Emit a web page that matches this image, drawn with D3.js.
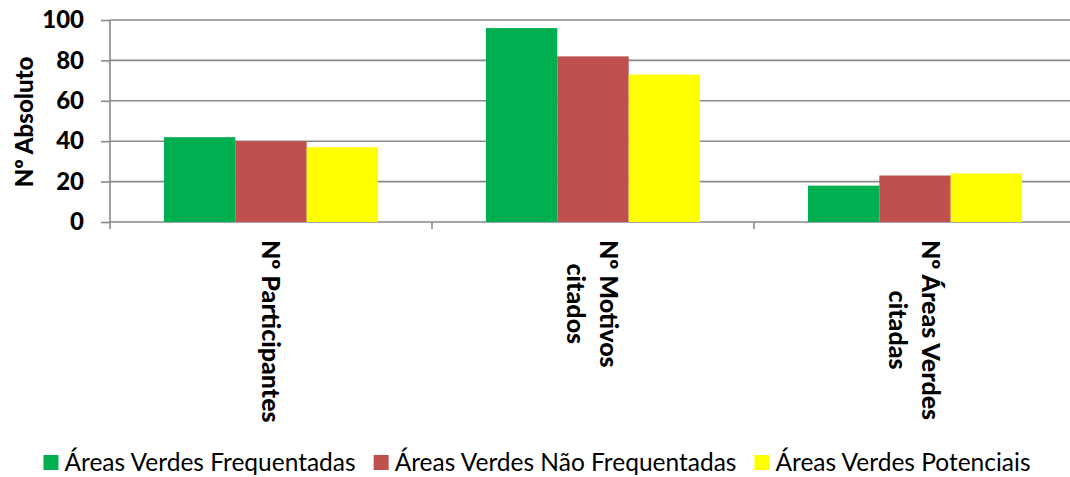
<!DOCTYPE html>
<html><head><meta charset="utf-8">
<script src="https://cdn.jsdelivr.net/npm/d3@7"></script>
<style>body{margin:0;background:#fff;overflow:hidden} svg{display:block}</style>
</head><body><svg id="c" width="1070" height="477"></svg>
<script>
// ---- data ----
const categories = ["Nº Participantes", "Nº Motivos|citados", "Nº Áreas Verdes|citadas"];
const seriesNames = ["Áreas Verdes Frequentadas", "Áreas Verdes Não Frequentadas", "Áreas Verdes Potenciais"];
const frequentadas = [42, 96, 18];
const naoFrequentadas = [40, 82, 23];
const potenciais = [37, 73, 24];
const yTicks = [0, 20, 40, 60, 80, 100];
const yTitle = "Nº Absoluto";
const colors = ["#00B050", "#C0504D", "#FFFF00"];

const seriesValues = [frequentadas, naoFrequentadas, potenciais];
const svg = d3.select("#c");
const FONT = "Lato, 'Open Sans', sans-serif";
const gridCol = "#898989";

const plot = {left: 110, right: 1076, top: 20, bottom: 222};
const x = d3.scaleBand().domain(categories).range([plot.left, plot.right])
  .paddingInner(0.335).paddingOuter(0.1675);
const xs = d3.scaleBand().domain(seriesNames).range([0, x.bandwidth()]);
const y = d3.scaleLinear().domain([0, 100]).range([plot.bottom, plot.top]);

// gridlines
svg.append("g").selectAll("line").data(yTicks).join("line")
  .attr("x1", plot.left).attr("x2", plot.right)
  .attr("y1", d => y(d)).attr("y2", d => y(d))
  .attr("stroke", gridCol).attr("stroke-width", 1.6);

// bars
const table = categories.map((c, i) => ({cat: c, vals: seriesNames.map((s, j) => ({s, j, v: seriesValues[j][i]}))}));
svg.append("g").selectAll("g").data(table).join("g")
  .attr("transform", d => `translate(${x(d.cat)},0)`)
  .selectAll("rect").data(d => d.vals).join("rect")
  .attr("x", d => xs(d.s)).attr("width", xs.bandwidth())
  .attr("y", d => y(d.v)).attr("height", d => y(0) - y(d.v))
  .attr("fill", d => colors[d.j]);

// y axis
const yAxis = d3.axisLeft(y).tickValues(yTicks).tickSize(9).tickSizeOuter(0).tickPadding(17);
const ga = svg.append("g").attr("transform", `translate(${plot.left},0)`).call(yAxis);
ga.select(".domain").remove();
ga.selectAll(".tick line").attr("stroke", gridCol).attr("stroke-width", 1.6);
ga.selectAll(".tick text").attr("font-family", FONT).attr("font-weight", 900)
  .attr("font-size", 24).attr("fill", "#000");
svg.append("line").attr("x1", plot.left).attr("x2", plot.left)
  .attr("y1", plot.top).attr("y2", plot.bottom + 7)
  .attr("stroke", gridCol).attr("stroke-width", 1.6);

// x axis boundary ticks
const step = x.step();
const bounds = categories.map(c => x(c) + x.bandwidth() / 2 - step / 2);
svg.append("g").selectAll("line").data(bounds.slice(1)).join("line")
  .attr("x1", d => d).attr("x2", d => d).attr("y1", plot.bottom).attr("y2", plot.bottom + 7)
  .attr("stroke", gridCol).attr("stroke-width", 1.6);

// y title
svg.append("text").attr("transform", "translate(33,122) rotate(-90)")
  .attr("text-anchor", "middle").attr("font-family", FONT).attr("font-weight", 900)
  .attr("font-size", 24).text(yTitle);

// category labels (rotated 90deg)
const lineGap = 33;
categories.forEach(c => {
  const lines = c.split("|");
  const cx = x(c) + x.bandwidth() / 2;
  const g = svg.append("g").attr("transform", `translate(${cx},240) rotate(90)`);
  const texts = lines.map((l, i) => g.append("text")
    .attr("font-family", FONT).attr("font-weight", 900).attr("font-size", 25)
    .attr("y", 9.5 + (i - (lines.length - 1) / 2) * lineGap).text(l));
  const maxLen = d3.max(texts, t => t.node().getComputedTextLength());
  texts.forEach(t => t.attr("x", maxLen / 2).attr("text-anchor", "middle"));
});

// legend
const leg = svg.append("g");
const items = seriesNames.map((s, i) => {
  const g = leg.append("g");
  g.append("rect").attr("width", 15).attr("height", 15).attr("y", 455).attr("fill", colors[i]);
  const t = g.append("text").attr("x", 21).attr("y", 471).attr("font-family", FONT)
    .attr("font-size", 24.5).attr("fill", "#000").text(s);
  return {g, w: 21 + t.node().getComputedTextLength()};
});
const gap = 18;
const total = d3.sum(items, d => d.w) + gap * (items.length - 1);
let cur = 537 - total / 2;
items.forEach(it => { it.g.attr("transform", `translate(${cur},0)`); cur += it.w + gap; });
</script>
</body></html>
